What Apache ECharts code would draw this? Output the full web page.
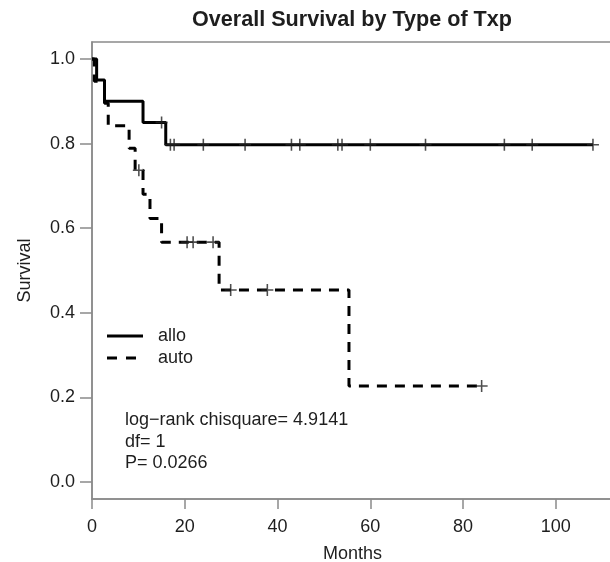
<!DOCTYPE html>
<html>
<head>
<meta charset="utf-8">
<script src="https://cdn.jsdelivr.net/npm/echarts@6/dist/echarts.min.js"></script>
<style>html,body{margin:0;padding:0;background:#fff}#c{width:610px;height:562px}</style>
</head>
<body>
<div id="c"></div>
<script>
// ---- data ----
const alloTimes = [0, 1.0, 2.7, 11.0, 15.9, 108.0];
const alloSurv  = [1, 0.95, 0.90, 0.85, 0.797, 0.797];
const alloCensorTimes = [15.0, 16.9, 17.7, 24.0, 33.0, 43.0, 44.8, 53.0, 53.9, 60.0, 71.9, 88.9, 94.9, 108.0];
const alloCensorSurv  = [0.85, 0.797, 0.797, 0.797, 0.797, 0.797, 0.797, 0.797, 0.797, 0.797, 0.797, 0.797, 0.797, 0.797];

const autoTimes = [0, 0.5, 2.7, 3.5, 8.0, 9.3, 11.0, 12.5, 15.0, 27.4, 55.4, 84.0];
const autoSurv  = [1, 0.947, 0.895, 0.842, 0.789, 0.737, 0.680, 0.623, 0.567, 0.454, 0.227, 0.227];
const autoCensorTimes = [10.1, 20.5, 21.8, 26.1, 29.9, 37.8, 84.0];
const autoCensorSurv  = [0.737, 0.567, 0.567, 0.567, 0.454, 0.454, 0.227];

const xTicks = [0, 20, 40, 60, 80, 100];
const yTicks = [0, 0.2, 0.4, 0.6, 0.8, 1.0];
const seriesNames = ['allo', 'auto'];
const statLines = ['log\u2212rank chisquare= 4.9141', 'df= 1', 'P= 0.0266'];
const titleText = 'Overall Survival by Type of Txp';
const xName = 'Months';
const yName = 'Survival';

const zip = (a, b) => a.map((v, i) => [v, b[i]]);
const FONT = "'Liberation Sans', Arial, sans-serif";
const AX = '#8a8a8a';
const TXT = '#1e1e1e';
const plus = 'path://M0,4.35 H10 V5.65 H0 Z M4.35,0 H5.65 V10 H4.35 Z';

const chart = echarts.init(document.getElementById('c'), null, {renderer: 'canvas'});
chart.setOption({
  animation: false,
  backgroundColor: '#fff',
  textStyle: {fontFamily: FONT},
  grid: {left: 92, top: 42, bottom: 63, right: -3, show: true, borderColor: AX, borderWidth: 1.5,
    containLabel: false, outerBoundsMode: 'none'},
  xAxis: {
    type: 'value', min: 0, max: 112.32,
    name: xName, nameLocation: 'middle', nameGap: 46,
    nameTextStyle: {fontSize: 18, color: TXT, fontFamily: FONT},
    axisLine: {show: true, onZero: false, lineStyle: {color: AX, width: 1.5}},
    axisTick: {show: true, length: 10, lineStyle: {color: AX, width: 1.5}, customValues: xTicks},
    axisLabel: {fontSize: 18, color: TXT, margin: 19, fontFamily: FONT, customValues: xTicks},
    splitLine: {show: false}
  },
  yAxis: {
    type: 'value', min: -0.04, max: 1.04,
    name: yName, nameLocation: 'middle', nameGap: 58, nameRotate: 90,
    nameTextStyle: {fontSize: 18, color: TXT, fontFamily: FONT},
    axisLine: {show: true, onZero: false, lineStyle: {color: AX, width: 1.5}},
    axisTick: {show: true, length: 12, lineStyle: {color: AX, width: 1.5}, customValues: yTicks},
    axisLabel: {fontSize: 18, color: TXT, margin: 17, fontFamily: FONT, customValues: yTicks,
      formatter: v => v.toFixed(1)},
    splitLine: {show: false}
  },
  series: [
    {name: seriesNames[0], type: 'line', step: 'end', data: zip(alloTimes, alloSurv), symbol: 'none',
      lineStyle: {color: '#000', width: 3}, z: 3},
    {name: seriesNames[1], type: 'line', step: 'end', data: zip(autoTimes, autoSurv), symbol: 'none',
      lineStyle: {color: '#000', width: 3, type: [10, 8]}, z: 2},
    {type: 'scatter', data: zip(alloCensorTimes, alloCensorSurv), symbol: plus, symbolSize: 12,
      itemStyle: {color: '#222'}, z: 4},
    {type: 'scatter', data: zip(autoCensorTimes, autoCensorSurv), symbol: plus, symbolSize: 12,
      itemStyle: {color: '#222'}, z: 4}
  ],
  graphic: [
    {type: 'text', x: 352, y: 20, style: {text: titleText, fontSize: 21.6, fontWeight: 'bold', fill: TXT,
      font: 'bold 21.6px ' + FONT, align: 'center', verticalAlign: 'middle'}},
    {type: 'line', shape: {x1: 107, y1: 336, x2: 143, y2: 336}, style: {stroke: '#000', lineWidth: 3}},
    {type: 'line', shape: {x1: 107, y1: 358, x2: 143, y2: 358}, style: {stroke: '#000', lineWidth: 3, lineDash: [10, 9]}},
    {type: 'text', x: 158, y: 336, style: {text: seriesNames[0], font: '18px ' + FONT, fill: TXT, verticalAlign: 'middle'}},
    {type: 'text', x: 158, y: 358, style: {text: seriesNames[1], font: '18px ' + FONT, fill: TXT, verticalAlign: 'middle'}},
    {type: 'text', x: 125, y: 420.5, style: {text: statLines[0], font: '18px ' + FONT, fill: TXT, verticalAlign: 'middle'}},
    {type: 'text', x: 125, y: 442, style: {text: statLines[1], font: '18px ' + FONT, fill: TXT, verticalAlign: 'middle'}},
    {type: 'text', x: 125, y: 463.5, style: {text: statLines[2], font: '18px ' + FONT, fill: TXT, verticalAlign: 'middle'}}
  ]
});
</script>
</body>
</html>
